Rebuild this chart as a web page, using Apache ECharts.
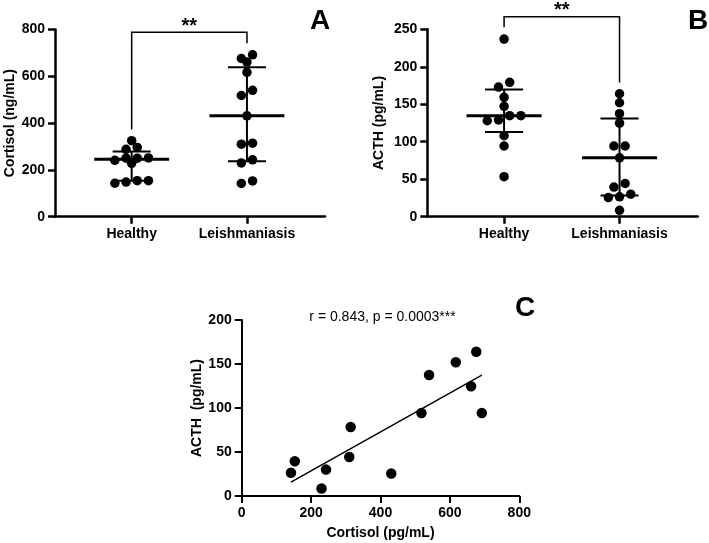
<!DOCTYPE html>
<html><head><meta charset="utf-8">
<script src="https://cdn.jsdelivr.net/npm/echarts@6/dist/echarts.min.js"></script>
<style>html,body{margin:0;padding:0;background:#fff}#c{width:709px;height:543px}</style>
</head><body><div id="c"></div>
<script>
// ---- data ----
const groups = ['Healthy', 'Leishmaniasis'];
const healthyCortisol = [325, 296, 288, 251, 250, 250, 241, 228, 154, 154, 148, 143];
const healthyACTH = [237, 179.3, 173, 159.3, 147.3, 134.7, 134.7, 129, 128, 108, 94.3, 53.4];
// Leishmaniasis patients (paired: cortisol / ACTH)
const leishCortisol = [142, 153, 230, 243, 310, 314, 431, 518, 540, 617, 661, 676, 692];
const leishACTH = [26.5, 39.5, 8.5, 30, 44.3, 78.5, 25.5, 94.3, 137.5, 152, 124.7, 164, 94.3];
const cortisolTicks = [0, 200, 400, 600, 800];
const acthTicks = [0, 50, 100, 150, 200, 250];
const corrTicksX = [0, 200, 400, 600, 800];
const corrTicksY = [0, 50, 100, 150, 200];
const sigA = [1, 373, 788, 2, 741];   // bracket: x1, y1 bottom, top, x2, y2 bottom
const sigB = [1, 252.6, 266.8, 2, 179];
const sigLabel = '**';
const corrText = 'r = 0.843, p = 0.0003***';

// ---- layout helpers ----
const XMIN = 0.335, XMAX = 2.677;
const G = [
  {left: 55, top: 29.5, width: 270, height: 187.2},
  {left: 427.3, top: 29.3, width: 270.4, height: 187.4},
  {left: 241.7, top: 320, width: 277.6, height: 176}
];
function quantile(sorted, p) { // (n+1) method
  const n = sorted.length; const pos = p * (n + 1);
  const lo = Math.floor(pos), frac = pos - lo;
  if (lo < 1) return sorted[0];
  if (lo >= n) return sorted[n - 1];
  return sorted[lo - 1] + frac * (sorted[lo] - sorted[lo - 1]);
}
function stats(vals, g) {
  const s = vals.slice().sort((a, b) => a - b);
  return [g, quantile(s, 0.5), quantile(s, 0.25), quantile(s, 0.75)];
}
function swarm(values, g, pxPerVal, pxPerX) {
  const laneStep = 11.2 / pxPerX, T = 5.25;
  const sorted = values.slice().sort((a, b) => b - a);
  const rows = []; let cur = null;
  for (const v of sorted) {
    if (cur && (cur[0] - v) * pxPerVal < T) cur.push(v);
    else { cur = [v]; rows.push(cur); }
  }
  const pts = [];
  rows.forEach(r => { r.sort((a, b) => a - b); r.forEach((v, i) => pts.push([g + (i - (r.length - 1) / 2) * laneStep, v])); });
  return pts;
}
const pxX0 = G[0].width / (XMAX - XMIN), pxX1 = G[1].width / (XMAX - XMIN);
const pxA = G[0].height / 800, pxB = G[1].height / 250;

// regression
const n = leishCortisol.length;
const mx = leishCortisol.reduce((a, b) => a + b, 0) / n;
const my = leishACTH.reduce((a, b) => a + b, 0) / n;
let sxy = 0, sxx = 0;
for (let i = 0; i < n; i++) { sxy += (leishCortisol[i] - mx) * (leishACTH[i] - my); sxx += (leishCortisol[i] - mx) ** 2; }
const slope = sxy / sxx, icpt = my - slope * mx;
const xr0 = Math.min(...leishCortisol), xr1 = Math.max(...leishCortisol);

const FONT = 'Liberation Sans, Arial, sans-serif';
const bold = {fontFamily: FONT, fontWeight: 'bold', fontSize: 14, color: '#000'};

function yAxisDef(gi, max, interval, name, gap, lw) {
  return {
    gridIndex: gi, type: 'value', min: 0, max: max, interval: interval,
    name: name, nameLocation: 'middle', nameGap: gap, nameTextStyle: bold,
    axisLine: {show: true, lineStyle: {color: '#000', width: lw}},
    axisTick: {show: true, length: 7, lineStyle: {color: '#000', width: lw}},
    axisLabel: Object.assign({margin: 10}, bold),
    splitLine: {show: false}
  };
}
function catAxisDef(gi) {
  return {
    gridIndex: gi, type: 'value', min: XMIN, max: XMAX,
    axisLine: {show: true, onZero: false, lineStyle: {color: '#000', width: 2.5}},
    axisTick: {show: true, length: 7, customValues: [1, 2], lineStyle: {color: '#000', width: 2.5}},
    axisLabel: Object.assign({margin: 10, customValues: [1, 2], formatter: v => groups[Math.round(v) - 1]}, bold),
    splitLine: {show: false}
  };
}
function statsRender(params, api) {
  const g = api.value(0), med = api.value(1), q1 = api.value(2), q3 = api.value(3);
  const L = (a, b, w) => ({type: 'line', shape: {x1: a[0], y1: a[1], x2: b[0], y2: b[1]}, style: {stroke: '#000', lineWidth: w}});
  return {type: 'group', children: [
    L(api.coord([g, q1]), api.coord([g, q3]), 2),
    L(api.coord([g - 0.165, q1]), api.coord([g + 0.165, q1]), 2),
    L(api.coord([g - 0.165, q3]), api.coord([g + 0.165, q3]), 2),
    L(api.coord([g - 0.325, med]), api.coord([g + 0.325, med]), 3)
  ]};
}
function bracketRender(params, api) {
  const p1 = api.coord([api.value(0), api.value(1)]);
  const p2 = api.coord([api.value(0), api.value(2)]);
  const p3 = api.coord([api.value(3), api.value(2)]);
  const p4 = api.coord([api.value(3), api.value(4)]);
  return {type: 'group', children: [
    {type: 'polyline', shape: {points: [p1, p2, p3, p4]}, style: {stroke: '#000', lineWidth: 1.5, fill: null}},
    {type: 'text', style: {text: sigLabel, x: (p2[0] + p3[0]) / 2, y: p2[1] - 6, align: 'center', verticalAlign: 'middle',
      fontFamily: FONT, fontWeight: 'bold', fontSize: 20, fill: '#000'}}
  ]};
}

const dot = {color: '#000', opacity: 1};
const chart = echarts.init(document.getElementById('c'), null, {renderer: 'canvas'});
chart.setOption({
  animation: false,
  backgroundColor: '#fff',
  grid: G.map(g => Object.assign({containLabel: false, outerBoundsMode: 'none'}, g)),
  xAxis: [
    catAxisDef(0), catAxisDef(1),
    {gridIndex: 2, type: 'value', min: 0, max: 800, interval: 200,
     name: 'Cortisol (pg/mL)', nameLocation: 'middle', nameGap: 30, nameTextStyle: bold,
     axisLine: {show: true, onZero: false, lineStyle: {color: '#000', width: 2}},
     axisTick: {show: true, length: 7, lineStyle: {color: '#000', width: 2}},
     axisLabel: Object.assign({margin: 10}, bold), splitLine: {show: false}}
  ],
  yAxis: [
    yAxisDef(0, 800, 200, 'Cortisol (ng/mL)', 38, 2.5),
    yAxisDef(1, 250, 50, 'ACTH (pg/mL)', 41, 2.5),
    yAxisDef(2, 200, 50, 'ACTH  (pg/mL)', 35, 2)
  ],
  series: [
    {type: 'scatter', xAxisIndex: 0, yAxisIndex: 0, symbolSize: 9.5, itemStyle: dot, silent: true,
     data: swarm(healthyCortisol, 1, pxA, pxX0).concat(swarm(leishCortisol, 2, pxA, pxX0))},
    {type: 'custom', xAxisIndex: 0, yAxisIndex: 0, renderItem: statsRender, silent: true,
     data: [stats(healthyCortisol, 1), stats(leishCortisol, 2)]},
    {type: 'custom', xAxisIndex: 0, yAxisIndex: 0, renderItem: bracketRender, silent: true, data: [sigA]},
    {type: 'scatter', xAxisIndex: 1, yAxisIndex: 1, symbolSize: 9.5, itemStyle: dot, silent: true,
     data: swarm(healthyACTH, 1, pxB, pxX1).concat(swarm(leishACTH, 2, pxB, pxX1))},
    {type: 'custom', xAxisIndex: 1, yAxisIndex: 1, renderItem: statsRender, silent: true,
     data: [stats(healthyACTH, 1), stats(leishACTH, 2)]},
    {type: 'custom', xAxisIndex: 1, yAxisIndex: 1, renderItem: bracketRender, silent: true, data: [sigB]},
    {type: 'scatter', xAxisIndex: 2, yAxisIndex: 2, symbolSize: 10.5, itemStyle: dot, silent: true,
     data: leishCortisol.map((c, i) => [c, leishACTH[i]])},
    {type: 'line', xAxisIndex: 2, yAxisIndex: 2, showSymbol: false, silent: true,
     lineStyle: {color: '#000', width: 1.5},
     data: [[xr0, icpt + slope * xr0], [xr1, icpt + slope * xr1]]}
  ],
  graphic: [
    {type: 'text', style: {text: 'A', x: 320, y: 21, align: 'center', verticalAlign: 'middle', fontFamily: FONT, fontWeight: 'bold', fontSize: 28, fill: '#000'}},
    {type: 'text', style: {text: 'B', x: 698, y: 21, align: 'center', verticalAlign: 'middle', fontFamily: FONT, fontWeight: 'bold', fontSize: 28, fill: '#000'}},
    {type: 'text', style: {text: 'C', x: 525, y: 308, align: 'center', verticalAlign: 'middle', fontFamily: FONT, fontWeight: 'bold', fontSize: 28, fill: '#000'}},
    {type: 'text', style: {text: corrText, x: 382.5, y: 317, align: 'center', verticalAlign: 'middle', fontFamily: FONT, fontSize: 14, fill: '#000'}}
  ]
});
</script>
</body></html>
